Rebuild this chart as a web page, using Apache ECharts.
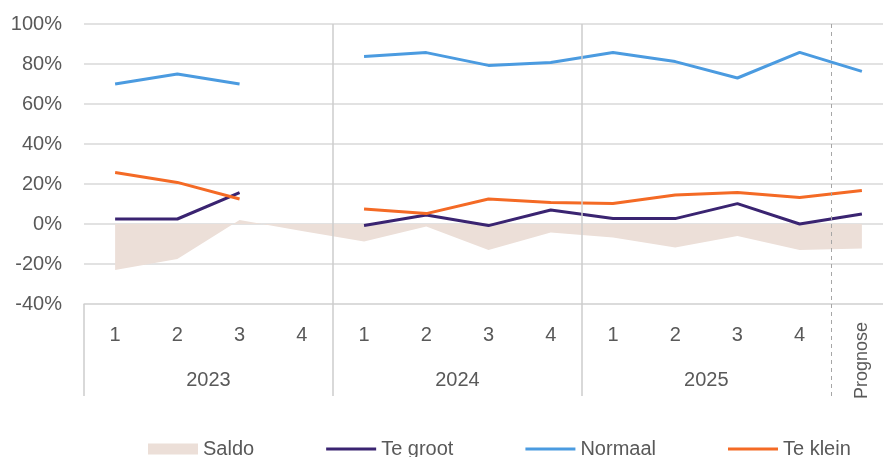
<!DOCTYPE html>
<html>
<head>
<meta charset="utf-8">
<script src="https://cdn.jsdelivr.net/npm/echarts@6/dist/echarts.min.js"></script>
<style>
  html, body { margin: 0; padding: 0; background: #fff; }
  #chart { width: 883px; height: 457px; }
</style>
</head>
<body>
<div id="chart"></div>
<script>
// kwartalen 2023 t/m 2025 + prognose
const quarterLabels = ['1', '2', '3', '4', '1', '2', '3', '4', '1', '2', '3', '4', ''];
const prognoseLabels = ['', '', '', '', '', '', '', '', '', '', '', '', 'Prognose'];
const yearLabels = { 2: '2023', 6: '2024', 10: '2025' }; // midden van elk jaarblok
const groupEnds = [4, 8];      // scheiding tussen jaren
const prognoseStart = 12;      // gestippelde lijn voor prognose

const saldo   = [-23, -17.5, 2, -3.5, -8.8, -1.3, -13, -4.2, -6.7, -11.8, -6, -13, -12.2];
const teGroot = [2.5, 2.5, 15.7, null, -0.8, 4.5, -0.8, 7, 2.7, 2.7, 10.2, 0, 5];
const normaal = [70, 75, 70, null, 83.7, 85.7, 79.3, 80.7, 85.8, 81.2, 73, 85.8, 76.3];
const teKlein = [25.7, 20.8, 12.5, null, 7.5, 5.2, 12.5, 10.7, 10.2, 14.5, 15.8, 13.2, 16.8];

const yMin = -40, yMax = 100, yStep = 20;

const font = 'Liberation Sans, Arial, sans-serif';
const textColor = '#595959';
const gridColor = '#d9d9d9';
const lineIcon = 'path://M0 0H50V3H0Z';

function lineSeries(name, data, color) {
  return {
    name: name,
    type: 'line',
    data: data,
    symbol: 'none',
    connectNulls: false,
    lineStyle: { color: color, width: 3 },
    itemStyle: { color: color },
    z: 3
  };
}

const chart = echarts.init(document.getElementById('chart'));

// grid 1 loopt door tot onder de labels, voor de verticale scheidingslijnen
const boxBottom = -86;

const dividerData = groupEnds.map(x => ({ xAxis: x }));
dividerData.push({ xAxis: prognoseStart, lineStyle: { type: [4, 4], color: '#a6a6a6', width: 1 } });
dividerData.push([{ coord: [0, boxBottom] }, { coord: [0, yMin] }]);

chart.setOption({
  animation: false,
  grid: [
    { left: 84, top: 24, width: 809, height: 280, outerBoundsMode: 'none' },
    { left: 84, top: 24, width: 809, height: 372, outerBoundsMode: 'none' }
  ],
  xAxis: [
    {
      type: 'category', gridIndex: 0, data: quarterLabels, position: 'bottom',
      axisLine: { onZero: false, lineStyle: { color: gridColor, width: 1.5 } },
      axisTick: { show: false },
      axisLabel: { interval: 0, fontSize: 20, color: textColor, fontFamily: font, margin: 21 }
    },
    {
      type: 'category', gridIndex: 0, data: prognoseLabels, position: 'bottom',
      axisLine: { show: false }, axisTick: { show: false },
      axisLabel: { interval: 0, rotate: 90, fontSize: 18, color: textColor, fontFamily: font, margin: 18 }
    },
    {
      type: 'value', gridIndex: 0, min: 0, max: 13, interval: 2, position: 'bottom',
      axisLine: { show: false }, axisTick: { show: false }, splitLine: { show: false },
      axisLabel: {
        fontSize: 20, color: textColor, fontFamily: font, margin: 66,
        formatter: v => yearLabels[v] || ''
      }
    },
    {
      type: 'value', gridIndex: 1, min: 0, max: 13, show: false
    }
  ],
  yAxis: [
    {
      type: 'value', gridIndex: 0, min: yMin, max: yMax, interval: yStep,
      axisLine: { show: false }, axisTick: { show: false },
      splitLine: { lineStyle: { color: gridColor, width: 1.5 } },
      axisLabel: { formatter: '{value}%', fontSize: 20, color: textColor, fontFamily: font, margin: 22 }
    },
    {
      type: 'value', gridIndex: 1, min: boxBottom, max: yMax, show: false
    }
  ],
  legend: {
    left: 143, top: 434,
    itemWidth: 50, itemHeight: 11, itemGap: 72,
    textStyle: { fontSize: 20, color: textColor, fontFamily: font },
    data: [
      { name: 'Saldo', icon: 'rect', itemStyle: { color: '#ecdfd8' } },
      { name: 'Te groot', icon: lineIcon },
      { name: 'Normaal', icon: lineIcon },
      { name: 'Te klein', icon: lineIcon }
    ]
  },
  series: [
    {
      name: 'Saldo', type: 'line', data: saldo, symbol: 'none',
      lineStyle: { width: 0, color: '#ecdfd8' },
      itemStyle: { color: '#ecdfd8' },
      areaStyle: { color: '#ecdfd8', opacity: 1 },
      z: 1
    },
    lineSeries('Te groot', teGroot, '#3a2471'),
    lineSeries('Normaal', normaal, '#4b9be0'),
    lineSeries('Te klein', teKlein, '#f46a25'),
    {
      type: 'line', xAxisIndex: 3, yAxisIndex: 1, data: [],
      markLine: {
        silent: true, symbol: ['none', 'none'],
        label: { show: false },
        lineStyle: { color: '#cccccc', width: 1.5, type: 'solid' },
        data: dividerData
      },
      z: 2
    }
  ]
});
</script>
</body>
</html>
